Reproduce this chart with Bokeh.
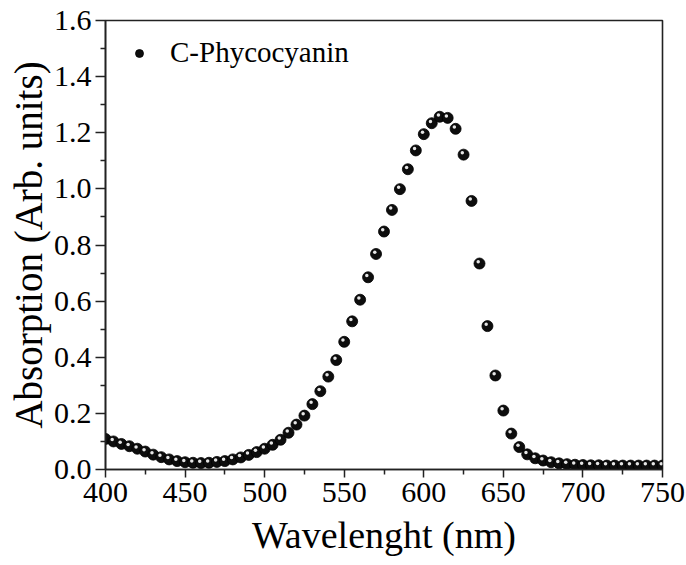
from bokeh.plotting import figure
from bokeh.models import Range1d, LinearAxis, FixedTicker, NumeralTickFormatter, Legend, LegendItem, ColumnDataSource
from bokeh.transform import dodge
from bokeh.embed import file_html
from bokeh.resources import INLINE

wavelength = [400, 405, 410, 415, 420, 425, 430, 435, 440, 445,
              450, 455, 460, 465, 470, 475, 480, 485, 490, 495,
              500, 505, 510, 515, 520, 525, 530, 535, 540, 545,
              550, 555, 560, 565, 570, 575, 580, 585, 590, 595,
              600, 605, 610, 615, 620, 625, 630, 635, 640, 645,
              650, 655, 660, 665, 670, 675, 680, 685, 690, 695,
              700, 705, 710, 715, 720, 725, 730, 735, 740, 745, 750]
absorption = [0.109, 0.100, 0.091, 0.083, 0.074, 0.064, 0.053, 0.044, 0.036, 0.030,
              0.026, 0.024, 0.023, 0.024, 0.027, 0.030, 0.036, 0.043, 0.052, 0.062,
              0.074, 0.088, 0.106, 0.131, 0.160, 0.192, 0.233, 0.279, 0.331, 0.390,
              0.455, 0.528, 0.605, 0.685, 0.768, 0.848, 0.925, 0.999, 1.070, 1.137,
              1.195, 1.234, 1.257, 1.253, 1.214, 1.122, 0.957, 0.734, 0.511, 0.335,
              0.210, 0.128, 0.080, 0.054, 0.040, 0.032, 0.026, 0.022, 0.019, 0.017,
              0.016, 0.015, 0.015, 0.014, 0.014, 0.014, 0.014, 0.014, 0.014, 0.014, 0.014]
x_ticks = [400, 450, 500, 550, 600, 650, 700, 750]
x_minor = [425, 475, 525, 575, 625, 675, 725]
y_ticks = [0.0, 0.2, 0.4, 0.6, 0.8, 1.0, 1.2, 1.4, 1.6]
y_minor = [0.1, 0.3, 0.5, 0.7, 0.9, 1.1, 1.3, 1.5]
series_name = "C-Phycocyanin"
x_title = "Wavelenght (nm)"
y_title = "Absorption (Arb. units)"

FONT = "'Liberation Serif', 'Times New Roman', serif"

src = ColumnDataSource(dict(x=wavelength, y=absorption))

p = figure(width=686, height=565, output_backend="svg", toolbar_location=None,
           x_range=Range1d(400, 750), y_range=Range1d(0, 1.6),
           min_border_left=105, min_border_right=24, min_border_top=20, min_border_bottom=96,
           x_axis_location=None, y_axis_location=None)
p.xgrid.visible = False
p.ygrid.visible = False
p.outline_line_color = "#222222"
p.outline_line_width = 1.6
p.background_fill_color = "white"
p.border_fill_color = "white"

def style_axis(ax, title, title_size):
    ax.axis_label = title
    ax.axis_label_text_font = FONT
    ax.axis_label_text_font_size = title_size
    ax.axis_label_text_font_style = "normal"
    ax.axis_label_text_color = "black"
    ax.major_label_text_font = FONT
    ax.major_label_text_font_size = "30px"
    ax.major_label_text_color = "black"
    ax.axis_line_color = "#222222"
    ax.axis_line_width = 1.6
    ax.major_tick_line_color = "#222222"
    ax.major_tick_line_width = 1.5
    ax.minor_tick_line_color = "#222222"
    ax.minor_tick_line_width = 1.5
    ax.major_tick_in = 0
    ax.minor_tick_in = 0
    ax.minor_tick_out = 5

xa = LinearAxis()
style_axis(xa, x_title, "38px")
xa.ticker = FixedTicker(ticks=x_ticks, minor_ticks=x_minor)
xa.major_tick_out = 8
xa.major_label_standoff = 5
xa.axis_label_standoff = 9
p.add_layout(xa, "below")

ya = LinearAxis()
style_axis(ya, y_title, "39px")
ya.ticker = FixedTicker(ticks=y_ticks, minor_ticks=y_minor)
ya.formatter = NumeralTickFormatter(format="0.0")
ya.major_tick_out = 10
ya.major_label_standoff = 4
ya.axis_label_standoff = 1
p.add_layout(ya, "left")

balls = p.scatter("x", "y", source=src, size=11, marker="circle",
                  fill_color="#0d0d0d", line_color="#000000", line_width=0.8)
shine = p.scatter(x=dodge("x", -0.8, range=p.x_range), y=dodge("y", 0.0065, range=p.y_range),
                  source=src, size=3.5, marker="circle",
                  fill_color="#e6e6e6", line_color=None)

legend = Legend(items=[LegendItem(label=series_name, renderers=[balls])],
                location=(24, 400), border_line_alpha=0, background_fill_alpha=0,
                padding=0, margin=0, glyph_width=20, glyph_height=20,
                label_standoff=21, label_text_font=FONT, label_text_font_size="29px",
                label_text_color="black")
p.add_layout(legend, "center")

open("out.html", "w").write(file_html(p, INLINE))
